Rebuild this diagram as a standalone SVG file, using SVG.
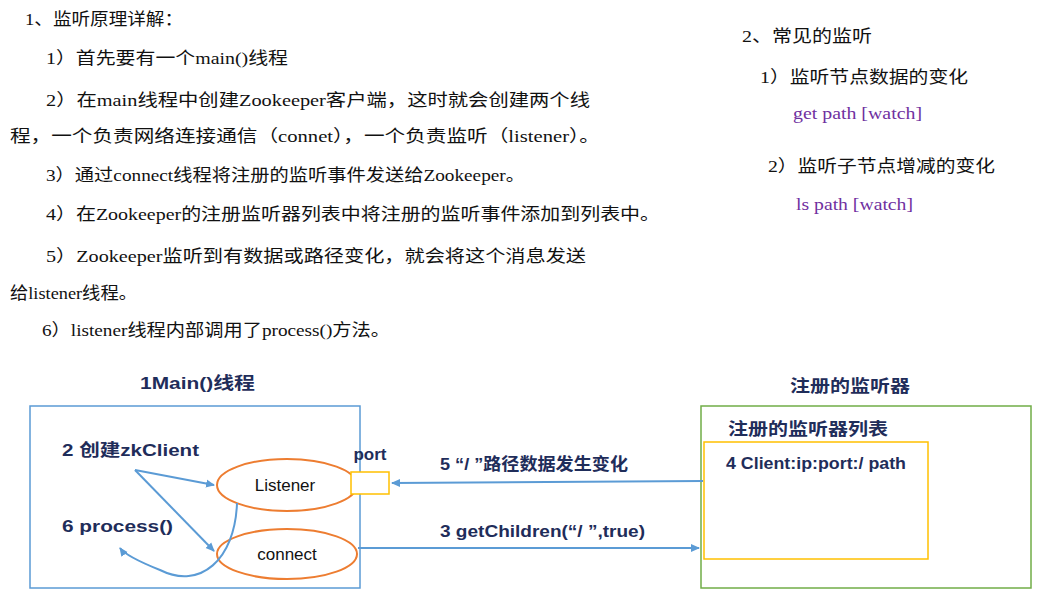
<svg xmlns="http://www.w3.org/2000/svg" width="1047" height="597" viewBox="0 0 1047 597">
<defs>
<style>
text{font-family:"Liberation Serif","Noto Sans CJK SC",serif;font-size:17px}
.t{fill:#111}
.p{fill:#7030a0}
.b{font-family:"Liberation Sans","Noto Sans CJK SC",sans-serif;font-size:17px;font-weight:bold;fill:#1f2d5a}
.n{font-family:"Liberation Sans","Noto Sans CJK SC",sans-serif;font-size:17px;fill:#111}
.ln{stroke:#5b9bd5;stroke-width:2;fill:none}
</style>
<marker id="ah" markerWidth="10" markerHeight="10" refX="8" refY="5" orient="auto" markerUnits="userSpaceOnUse"><path d="M0,1 L9,5 L0,9 z" fill="#5b9bd5"/></marker>
</defs>
<rect width="1047" height="597" fill="#fff"/>
<g id="text" lengthAdjust="spacingAndGlyphs">
<text class="t" x="25" y="25" textLength="158" lengthAdjust="spacingAndGlyphs">1、监听原理详解：</text>
<text class="t" x="46" y="64" textLength="242" lengthAdjust="spacingAndGlyphs">1）首先要有一个main()线程</text>
<text class="t" x="46" y="106" textLength="544" lengthAdjust="spacingAndGlyphs">2）在main线程中创建Zookeeper客户端，这时就会创建两个线</text>
<text class="t" x="10" y="142" textLength="590" lengthAdjust="spacingAndGlyphs">程，一个负责网络连接通信（connet），一个负责监听（listener）。</text>
<text class="t" x="46" y="181" textLength="479" lengthAdjust="spacingAndGlyphs">3）通过connect线程将注册的监听事件发送给Zookeeper。</text>
<text class="t" x="46" y="220" textLength="614" lengthAdjust="spacingAndGlyphs">4）在Zookeeper的注册监听器列表中将注册的监听事件添加到列表中。</text>
<text class="t" x="46" y="262" textLength="540" lengthAdjust="spacingAndGlyphs">5）Zookeeper监听到有数据或路径变化，就会将这个消息发送</text>
<text class="t" x="10" y="299" textLength="127" lengthAdjust="spacingAndGlyphs">给listener线程。</text>
<text class="t" x="42" y="336" textLength="348" lengthAdjust="spacingAndGlyphs">6）listener线程内部调用了process()方法。</text>
<text class="t" x="742" y="42" textLength="130" lengthAdjust="spacingAndGlyphs">2、常见的监听</text>
<text class="t" x="760" y="83" textLength="208" lengthAdjust="spacingAndGlyphs">1）监听节点数据的变化</text>
<text class="p" x="793" y="119" textLength="129" lengthAdjust="spacingAndGlyphs">get path [watch]</text>
<text class="t" x="768" y="172" textLength="227" lengthAdjust="spacingAndGlyphs">2）监听子节点增减的变化</text>
<text class="p" x="796" y="210" textLength="117" lengthAdjust="spacingAndGlyphs">ls path [watch]</text>
</g>
<g id="main">
<text class="b" x="140" y="389" font-size="18" textLength="115" lengthAdjust="spacingAndGlyphs">1Main()线程</text>
<rect x="30" y="406" width="330" height="182" fill="none" stroke="#5b9bd5" stroke-width="1.5"/>
<text class="b" x="62" y="456" textLength="137" lengthAdjust="spacingAndGlyphs">2 创建zkClient</text>
<text class="b" x="62" y="532" textLength="111" lengthAdjust="spacingAndGlyphs">6 process()</text>
</g>
<g id="listener"><ellipse cx="287" cy="485" rx="70" ry="26" fill="#fff" stroke="#ed7d31" stroke-width="2"/><text class="n" x="285" y="491" text-anchor="middle">Listener</text></g>
<g id="connect"><ellipse cx="287" cy="554" rx="70" ry="25" fill="#fff" stroke="#ed7d31" stroke-width="2"/><text class="n" x="287" y="560" text-anchor="middle">connect</text></g>
<g id="port"><rect x="351" y="472" width="38" height="22" fill="#fff" stroke="#ffc000" stroke-width="1.5"/><text class="b" x="370" y="460" font-size="15" text-anchor="middle">port</text></g>
<g id="registry">
<text class="b" x="790" y="392" textLength="120" lengthAdjust="spacingAndGlyphs">注册的监听器</text>
<rect x="701" y="406" width="330" height="182" fill="none" stroke="#70ad47" stroke-width="1.5"/>
<text class="b" x="728" y="435" textLength="160" lengthAdjust="spacingAndGlyphs">注册的监听器列表</text>
<rect x="704" y="442" width="224" height="117" fill="none" stroke="#ffc000" stroke-width="1.5"/>
<text class="b" x="726" y="469" font-size="14" textLength="180" lengthAdjust="spacingAndGlyphs">4 Client:ip:port:/ path</text>
</g>
<g id="connectors">
<line class="ln" x1="135" y1="470" x2="214" y2="485" marker-end="url(#ah)"/>
<line class="ln" x1="135" y1="470" x2="214" y2="551" marker-end="url(#ah)"/>
<path class="ln" d="M237,503 C235,560 200,590 160,570 C140,562 125,555 120,548" marker-end="url(#ah)"/>
<line class="ln" x1="703" y1="481" x2="392" y2="483" marker-end="url(#ah)"/>
<line class="ln" x1="358" y1="548" x2="699" y2="548" marker-end="url(#ah)"/>
<text class="b" x="440" y="470" textLength="188" lengthAdjust="spacingAndGlyphs">5 “/ ”路径数据发生变化</text>
<text class="b" x="440" y="537" textLength="205" lengthAdjust="spacingAndGlyphs">3 getChildren(“/ ”,true)</text>
</g>
</svg>
